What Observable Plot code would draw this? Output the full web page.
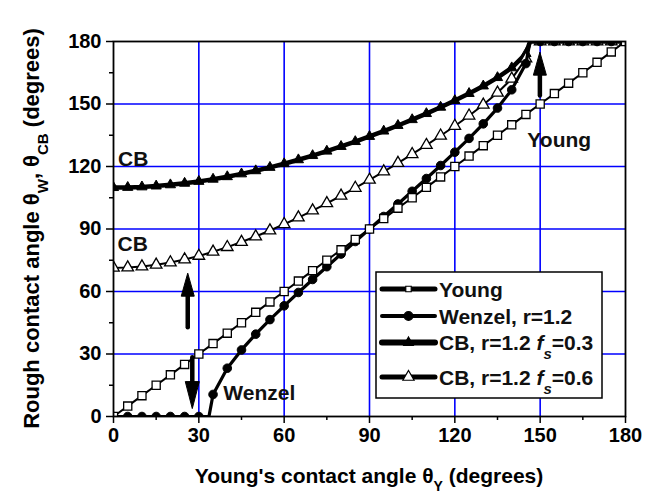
<!DOCTYPE html>
<html>
<head>
<meta charset="utf-8">
<script src="https://cdn.jsdelivr.net/npm/d3@7"></script>
<script src="https://cdn.jsdelivr.net/npm/@observablehq/plot@0.6"></script>
<style>
  body { margin: 0; background: #fff; }
  #chart { width: 646px; height: 494px; }
  #chart svg { display: block; }
</style>
</head>
<body>
<div id="chart"></div>
<script>
// Young's angle (degrees); 33.56 and 146.44 are where the rough-surface curves saturate
const angle = [0, 5, 10, 15, 20, 25, 30, 33.56, 35, 40, 45, 50, 55, 60, 65, 70, 75, 80, 85, 90,
  95, 100, 105, 110, 115, 120, 125, 130, 135, 140, 145, 146.44, 150, 155, 160, 165, 170, 175, 180];

// Smooth surface: rough angle equals Young's angle
const young = [0, 5, 10, 15, 20, 25, 30, 33.56, 35, 40, 45, 50, 55, 60, 65, 70, 75, 80, 85, 90,
  95, 100, 105, 110, 115, 120, 125, 130, 135, 140, 145, 146.44, 150, 155, 160, 165, 170, 175, 180];

// Wenzel, r = 1.2
const wenzel = [0, 0, 0, 0, 0, 0, 0, 0, 10.59, 23.18, 31.95, 39.52, 46.51, 53.13, 59.53, 65.77,
  71.90, 77.97, 84.00, 90, 96.00, 102.03, 108.10, 114.23, 120.47, 126.87, 133.49, 140.48, 148.05,
  156.82, 169.41, 180, 180, 180, 180, 180, 180, 180, 180];

// Cassie-Baxter, r = 1.2, fs = 0.3
const cb03 = [109.88, 109.96, 110.21, 110.63, 111.21, 111.95, 112.84, 113.58, 113.90, 115.10,
  116.45, 117.95, 119.57, 121.33, 123.22, 125.23, 127.36, 129.61, 131.96, 134.43, 137.00, 139.69,
  142.48, 145.40, 148.45, 151.64, 155.04, 158.65, 162.67, 167.37, 174.20, 180, 180, 180, 180, 180,
  180, 180, 180];

// Cassie-Baxter, r = 1.2, fs = 0.6
const cb06 = [71.34, 71.50, 72.00, 72.81, 73.94, 75.37, 77.08, 78.46, 79.06, 81.28, 83.74, 86.40,
  89.26, 92.29, 95.49, 98.84, 102.34, 105.96, 109.71, 113.58, 117.57, 121.67, 125.90, 130.26,
  134.77, 139.46, 144.39, 149.63, 155.38, 162.09, 171.80, 180, 180, 180, 180, 180, 180, 180, 180];

// Axis ticks
const majorTicks = [0, 30, 60, 90, 120, 150, 180];
const minorTicks = [15, 45, 75, 105, 135, 165];

// Transition arrows: x position, start and end angle
const arrowX = [26.1, 27.7, 149.9];
const arrowFrom = [42.9, 28.5, 154.1];
const arrowTo = [68.8, 3.8, 174.9];

// In-plot curve labels
const labelText = ["CB", "CB", "Wenzel", "Young"];
const labelX = [1.6, 1.4, 38.6, 145.5];
const labelY = [123.3, 82.7, 11.0, 132.6];

const rows = angle.map((a, i) => ({a, young: young[i], wenzel: wenzel[i], cb03: cb03[i], cb06: cb06[i]}));
const marked = rows.filter(d => d.a % 5 === 0);
const arrows = arrowX.map((x, i) => ({x, y1: arrowFrom[i], y2: arrowTo[i], up: arrowTo[i] > arrowFrom[i]}));
const labels = labelText.map((t, i) => ({t, x: labelX[i], y: labelY[i]}));

// Filled, slender arrow heads with the tip at the origin
const headUp = {draw(ctx) { ctx.moveTo(0, 0); ctx.lineTo(6.5, 23); ctx.lineTo(-6.5, 23); ctx.closePath(); }};
const headDown = {draw(ctx) { ctx.moveTo(0, 0); ctx.lineTo(7, -27); ctx.lineTo(-7, -27); ctx.closePath(); }};

const FONT = "'Liberation Sans', Arial, Helvetica, sans-serif";

const svg = Plot.plot({
  width: 646,
  height: 494,
  marginLeft: 113,
  marginRight: 21,
  marginTop: 41,
  marginBottom: 78,
  x: {domain: [0, 180]},
  y: {domain: [0, 180]},
  style: {fontFamily: FONT, fontSize: "20px", fontWeight: "bold", color: "#000", background: "#fff"},
  marks: [
    Plot.gridX(majorTicks.slice(1, -1), {stroke: "#0000ff", strokeOpacity: 1, strokeWidth: 1.6}),
    Plot.gridY(majorTicks.slice(1, -1), {stroke: "#0000ff", strokeOpacity: 1, strokeWidth: 1.6}),
    Plot.axisX({ticks: majorTicks, tickSize: 7, tickPadding: 4, label: null, strokeWidth: 1.5}),
    Plot.axisX({ticks: minorTicks, tickSize: 4, tickFormat: () => "", label: null, strokeWidth: 1.5}),
    Plot.axisY({ticks: majorTicks, tickSize: 7, tickPadding: 5, label: null, strokeWidth: 1.5}),
    Plot.axisY({ticks: minorTicks, tickSize: 4, tickFormat: () => "", label: null, strokeWidth: 1.5}),

    // Cassie-Baxter fs = 0.3
    Plot.line(rows, {x: "a", y: "cb03", stroke: "#000", strokeWidth: 4.5, clip: true}),
    Plot.dot(marked, {x: "a", y: "cb03", symbol: "triangle", r: 3.8, fill: "#000", stroke: "#000", strokeWidth: 1, clip: true}),
    // Cassie-Baxter fs = 0.6
    Plot.line(rows, {x: "a", y: "cb06", stroke: "#000", strokeWidth: 2, clip: true}),
    Plot.dot(marked, {x: "a", y: "cb06", symbol: "triangle", r: 4.3, fill: "#fff", stroke: "#000", strokeWidth: 1.3, clip: true}),
    // Wenzel
    Plot.line(rows, {x: "a", y: "wenzel", stroke: "#000", strokeWidth: 3.2, clip: true}),
    Plot.dot(marked, {x: "a", y: "wenzel", r: 4.3, fill: "#000", stroke: "#000", strokeWidth: 1, clip: true}),
    // Young
    Plot.line(rows, {x: "a", y: "young", stroke: "#000", strokeWidth: 2, clip: true}),
    Plot.dot(marked, {x: "a", y: "young", symbol: "square", r: 4.6, fill: "#fff", stroke: "#000", strokeWidth: 1.3, clip: true}),

    // Arrows: shafts then filled heads
    Plot.arrow(arrows, {x1: "x", y1: "y1", x2: "x", y2: "y2", headLength: 0, insetEnd: 14, stroke: "#000", strokeWidth: 4.5}),
    Plot.dot(arrows.filter(d => d.up), {x: "x", y: "y2", symbol: headUp, fill: "#000", stroke: "#000", strokeWidth: 1}),
    Plot.dot(arrows.filter(d => !d.up), {x: "x", y: "y2", symbol: headDown, fill: "#000", stroke: "#000", strokeWidth: 1}),

    Plot.text(labels, {x: "x", y: "y", text: "t", textAnchor: "start", lineAnchor: "middle", fontSize: 21, fontWeight: "bold", fill: "#111"}),
    Plot.frame({stroke: "#000", strokeWidth: 1.8})
  ]
});

document.getElementById("chart").appendChild(svg);

const root = d3.select(svg);

// Axis titles with subscripts
const xTitle = root.append("text")
  .attr("x", 369).attr("y", 483)
  .attr("text-anchor", "middle")
  .style("font", `bold 21px ${FONT}`).attr("fill", "#000");
xTitle.append("tspan").text("Young's contact angle θ");
xTitle.append("tspan").attr("baseline-shift", "sub").attr("font-size", "14px").text("Y");
xTitle.append("tspan").text(" (degrees)");

const yTitle = root.append("text")
  .attr("transform", "translate(39,228.5) rotate(-90)")
  .attr("text-anchor", "middle")
  .style("font", `bold 22px ${FONT}`).attr("fill", "#000");
yTitle.append("tspan").text("Rough contact angle θ");
yTitle.append("tspan").attr("baseline-shift", "sub").attr("font-size", "15px").text("W");
yTitle.append("tspan").text(", θ");
yTitle.append("tspan").attr("baseline-shift", "sub").attr("font-size", "15px").text("CB");
yTitle.append("tspan").text(" (degrees)");

// Legend box
const legend = root.append("g");
legend.append("rect")
  .attr("x", 376).attr("y", 272).attr("width", 226).attr("height", 126)
  .attr("fill", "#fff").attr("stroke", "#000").attr("stroke-width", 1.5);

const entries = [
  {y: 289, lw: 5, sym: d3.symbolSquare, size: 30, fill: "#fff", parts: [["Young"]]},
  {y: 316, lw: 4, sym: d3.symbolCircle, size: 60, fill: "#000", parts: [["Wenzel, r=1.2"]]},
  {y: 342.5, lw: 6, sym: d3.symbolTriangle, size: 40, fill: "#000", parts: [["CB, r=1.2 "], ["f", "i"], ["s", "is"], ["=0.3"]]},
  {y: 377, lw: 5, sym: d3.symbolTriangle, size: 55, fill: "#fff", parts: [["CB, r=1.2 "], ["f", "i"], ["s", "is"], ["=0.6"]]}
];

for (const e of entries) {
  legend.append("line")
    .attr("x1", 382).attr("x2", 435).attr("y1", e.y).attr("y2", e.y)
    .attr("stroke", "#000").attr("stroke-width", e.lw).attr("stroke-linecap", "round");
  legend.append("path")
    .attr("d", d3.symbol(e.sym, e.size)())
    .attr("transform", `translate(408.5,${e.y})`)
    .attr("fill", e.fill).attr("stroke", "#000").attr("stroke-width", 1.2);
  const t = legend.append("text")
    .attr("x", 439).attr("y", e.y).attr("dy", "0.36em")
    .attr("text-anchor", "start")
    .style("font", `bold 21px ${FONT}`).attr("fill", "#111");
  for (const [s, kind] of e.parts) {
    const sp = t.append("tspan").text(s);
    if (kind && kind.includes("i")) sp.attr("font-style", "italic");
    if (kind && kind.includes("s")) sp.attr("baseline-shift", "sub").attr("font-size", "15px");
  }
}
</script>
</body>
</html>
